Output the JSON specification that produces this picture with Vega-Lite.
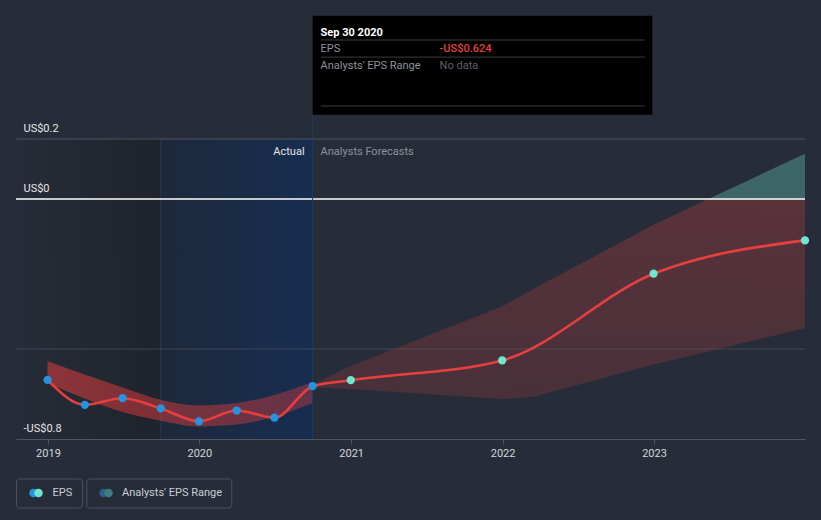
{
  "$schema": "https://vega.github.io/schema/vega-lite/v6.json",
  "width": 789,
  "height": 300,
  "autosize": {"type": "none"},
  "padding": {"left": 16, "top": 139, "right": 16, "bottom": 81},
  "background": "#262d38",
  "config": {
    "view": {"stroke": null},
    "font": "Roboto",
    "axis": {"labelFont": "Roboto", "titleFont": "Roboto"},
    "legend": {"labelFont": "Roboto"}
  },
  "data": {"values": [{}]},
  "datasets": {
    "eps": [
      {"date": "2018-12-31", "eps": -0.603, "kind": "actual"},
      {"date": "2019-03-31", "eps": -0.686, "kind": "actual"},
      {"date": "2019-06-30", "eps": -0.664, "kind": "actual"},
      {"date": "2019-09-30", "eps": -0.698, "kind": "actual"},
      {"date": "2019-12-31", "eps": -0.741, "kind": "actual"},
      {"date": "2020-03-31", "eps": -0.705, "kind": "actual"},
      {"date": "2020-06-30", "eps": -0.729, "kind": "actual"},
      {"date": "2020-09-30", "eps": -0.624, "kind": "actual"},
      {"date": "2020-12-31", "eps": -0.604, "kind": "forecast"},
      {"date": "2021-12-31", "eps": -0.538, "kind": "forecast"},
      {"date": "2022-12-31", "eps": -0.249, "kind": "forecast"},
      {"date": "2023-12-31", "eps": -0.138, "kind": "forecast"}
    ],
    "pastRange": [
      {"date": "2018-12-31", "lo": -0.614, "hi": -0.541},
      {"date": "2019-03-31", "lo": -0.665, "hi": -0.585},
      {"date": "2019-06-30", "lo": -0.71, "hi": -0.628},
      {"date": "2019-09-30", "lo": -0.739, "hi": -0.669},
      {"date": "2019-12-31", "lo": -0.758, "hi": -0.688},
      {"date": "2020-03-31", "lo": -0.752, "hi": -0.68},
      {"date": "2020-06-30", "lo": -0.725, "hi": -0.653},
      {"date": "2020-09-30", "lo": -0.68, "hi": -0.61}
    ],
    "fcRange": [
      {"date": "2020-09-30", "lo": -0.628, "hi": -0.618},
      {"date": "2020-12-31", "lo": -0.633, "hi": -0.557},
      {"date": "2021-12-31", "lo": -0.667, "hi": -0.358},
      {"date": "2022-03-14", "lo": -0.66, "hi": -0.302},
      {"date": "2022-12-31", "lo": -0.552, "hi": -0.086},
      {"date": "2023-05-12", "lo": -0.508, "hi": 0},
      {"date": "2023-12-31", "lo": -0.43, "hi": 0}
    ],
    "fcAbove": [
      {"date": "2023-05-12", "hi": 0},
      {"date": "2023-12-31", "hi": 0.151}
    ],
    "zones": [
      {"start": "2018-10-16", "end": "2019-09-30", "zone": "older"},
      {"start": "2019-09-30", "end": "2020-09-30", "zone": "recent"}
    ]
  },
  "layer": [
    {
      "data": {"name": "zones"},
      "transform": [{"filter": "datum.zone == 'older'"}],
      "mark": {
        "type": "rect",
        "color": {
          "gradient": "linear",
          "stops": [
            {"offset": 0, "color": "#262d38"},
            {"offset": 1, "color": "#1f232b"}
          ]
        }
      },
      "encoding": {
        "x": {
          "field": "start",
          "type": "temporal",
          "scale": {
            "type": "utc",
            "domain": [
              {"year": 2018, "month": 10, "date": 16, "utc": true},
              {"year": 2023, "month": 12, "date": 31, "utc": true}
            ]
          },
          "axis": {
            "title": null,
            "format": "%Y",
            "values": [
              {"year": 2019, "month": 1, "date": 1, "utc": true},
              {"year": 2020, "month": 1, "date": 1, "utc": true},
              {"year": 2021, "month": 1, "date": 1, "utc": true},
              {"year": 2022, "month": 1, "date": 1, "utc": true},
              {"year": 2023, "month": 1, "date": 1, "utc": true}
            ],
            "grid": false,
            "domainColor": "#4f5562",
            "tickColor": "#4f5562",
            "tickSize": 5,
            "labelColor": "#d4d7dc",
            "labelFontSize": 11,
            "labelPadding": 3,
            "zindex": 1
          }
        },
        "x2": {"field": "end"}
      }
    },
    {
      "data": {"name": "zones"},
      "transform": [{"filter": "datum.zone == 'recent'"}],
      "mark": {
        "type": "rect",
        "color": {
          "gradient": "linear",
          "stops": [
            {"offset": 0, "color": "#1d293b"},
            {"offset": 1, "color": "#172d50"}
          ]
        }
      },
      "encoding": {"x": {"field": "start", "type": "temporal"}, "x2": {"field": "end"}}
    },
    {
      "data": {"name": "zones"},
      "transform": [{"filter": "datum.zone == 'recent'"}],
      "mark": {"type": "rule", "color": "#26385a", "strokeWidth": 1},
      "encoding": {"x": {"field": "start", "type": "temporal"}}
    },
    {
      "data": {"name": "pastRange"},
      "mark": {
        "type": "area",
        "interpolate": "monotone",
        "color": {
          "gradient": "linear",
          "stops": [
            {"offset": 0, "color": "rgba(226,60,62,0.55)"},
            {"offset": 1, "color": "rgba(226,60,62,0.38)"}
          ]
        }
      },
      "encoding": {
        "x": {"field": "date", "type": "temporal"},
        "y": {
          "field": "hi",
          "type": "quantitative",
          "scale": {"domain": [-0.8, 0.2], "nice": false, "zero": false},
          "axis": {
            "title": null,
            "orient": "left",
            "values": [-0.8, 0, 0.2],
            "labelExpr": "datum.value > 0.1 ? 'US$0.2' : datum.value < -0.1 ? '-US$0.8' : 'US$0'",
            "domain": false,
            "ticks": false,
            "grid": false,
            "labelAlign": "left",
            "labelPadding": -7,
            "labelBaseline": "alphabetic",
            "labelOffset": -8,
            "labelColor": "#e6e6e6",
            "labelFontSize": 11,
            "zindex": 1
          }
        },
        "y2": {"field": "lo"}
      }
    },
    {
      "data": {"name": "fcRange"},
      "mark": {
        "type": "area",
        "interpolate": "linear",
        "color": {
          "gradient": "linear",
          "x1": 0, "x2": 0, "y1": 0, "y2": 1,
          "stops": [
            {"offset": 0, "color": "rgba(229,64,63,0.27)"},
            {"offset": 1, "color": "rgba(229,64,63,0.18)"}
          ]
        }
      },
      "encoding": {
        "x": {"field": "date", "type": "temporal"},
        "y": {"field": "hi", "type": "quantitative"},
        "y2": {"field": "lo"}
      }
    },
    {
      "data": {"name": "fcAbove"},
      "mark": {"type": "area", "interpolate": "linear", "color": "#3e6568"},
      "encoding": {
        "x": {"field": "date", "type": "temporal"},
        "y": {"field": "hi", "type": "quantitative"},
        "y2": {"datum": 0}
      }
    },
    {
      "mark": {"type": "rule", "color": "#4c5260", "strokeWidth": 1},
      "encoding": {"y": {"datum": 0.2, "type": "quantitative"}}
    },
    {
      "mark": {"type": "rule", "color": "#5a5f6b", "strokeWidth": 1, "opacity": 0.55},
      "encoding": {"y": {"datum": -0.5, "type": "quantitative"}}
    },
    {
      "mark": {"type": "rule", "color": "#ffffff", "strokeWidth": 1.5},
      "encoding": {"y": {"datum": 0, "type": "quantitative"}}
    },
    {
      "mark": {"type": "rule", "color": "#1f3b62", "strokeWidth": 1},
      "encoding": {
        "x": {"datum": {"year": 2020, "month": 9, "date": 30, "utc": true}, "type": "temporal"},
        "y": {"datum": 0.29, "type": "quantitative"},
        "y2": {"datum": -0.8}
      }
    },
    {
      "data": {"name": "eps"},
      "mark": {"type": "line", "interpolate": "monotone", "color": "#e5403f", "strokeWidth": 2.6},
      "encoding": {
        "x": {"field": "date", "type": "temporal"},
        "y": {"field": "eps", "type": "quantitative"}
      }
    },
    {
      "data": {"name": "eps"},
      "mark": {"type": "point", "filled": true, "size": 68, "opacity": 1},
      "encoding": {
        "x": {"field": "date", "type": "temporal"},
        "y": {"field": "eps", "type": "quantitative"},
        "color": {
          "condition": {"test": "datum.kind == 'actual'", "value": "#2394df"},
          "value": "#6fe6cf"
        }
      }
    },
    {
      "data": {"name": "eps"},
      "transform": [{"filter": "datum.date == '2020-09-30'"}],
      "mark": {"type": "point", "filled": true, "size": 70, "color": "#2394df", "stroke": "#e8f0fa", "strokeWidth": 1.3, "opacity": 1},
      "encoding": {
        "x": {"field": "date", "type": "temporal"},
        "y": {"field": "eps", "type": "quantitative"}
      }
    },
    {
      "mark": {"type": "text", "text": "Actual", "align": "right", "baseline": "middle", "dx": -8, "fontSize": 11, "color": "#e6e6e6"},
      "encoding": {
        "x": {"datum": {"year": 2020, "month": 9, "date": 30, "utc": true}, "type": "temporal"},
        "y": {"datum": 0.156, "type": "quantitative"}
      }
    },
    {
      "mark": {"type": "text", "text": "Analysts Forecasts", "align": "left", "baseline": "middle", "dx": 8, "fontSize": 11, "color": "#8d929b"},
      "encoding": {
        "x": {"datum": {"year": 2020, "month": 9, "date": 30, "utc": true}, "type": "temporal"},
        "y": {"datum": 0.156, "type": "quantitative"}
      }
    },
    {
      "mark": {"type": "rect", "color": "#000000"},
      "encoding": {
        "x": {"datum": {"year": 2020, "month": 9, "date": 30, "utc": true}, "type": "temporal"},
        "x2": {"datum": {"year": 2022, "month": 12, "date": 28, "utc": true}},
        "y": {"datum": 0.611, "type": "quantitative"},
        "y2": {"datum": 0.281}
      }
    },
    {
      "mark": {"type": "rule", "color": "#3c3c3c", "strokeWidth": 1},
      "encoding": {
        "x": {"datum": {"year": 2020, "month": 10, "date": 20, "utc": true}, "type": "temporal"},
        "x2": {"datum": {"year": 2022, "month": 12, "date": 10, "utc": true}},
        "y": {"datum": 0.53, "type": "quantitative"}
      }
    },
    {
      "mark": {"type": "rule", "color": "#3c3c3c", "strokeWidth": 1},
      "encoding": {
        "x": {"datum": {"year": 2020, "month": 10, "date": 20, "utc": true}, "type": "temporal"},
        "x2": {"datum": {"year": 2022, "month": 12, "date": 10, "utc": true}},
        "y": {"datum": 0.473, "type": "quantitative"}
      }
    },
    {
      "mark": {"type": "rule", "color": "#3c3c3c", "strokeWidth": 1},
      "encoding": {
        "x": {"datum": {"year": 2020, "month": 10, "date": 20, "utc": true}, "type": "temporal"},
        "x2": {"datum": {"year": 2022, "month": 12, "date": 10, "utc": true}},
        "y": {"datum": 0.31, "type": "quantitative"}
      }
    },
    {
      "mark": {"type": "text", "text": "Sep 30 2020", "align": "left", "baseline": "middle", "dx": 8, "fontSize": 11, "fontWeight": "bold", "color": "#ffffff"},
      "encoding": {
        "x": {"datum": {"year": 2020, "month": 9, "date": 30, "utc": true}, "type": "temporal"},
        "y": {"datum": 0.555, "type": "quantitative"}
      }
    },
    {
      "mark": {"type": "text", "text": "EPS", "align": "left", "baseline": "middle", "dx": 8, "fontSize": 11, "color": "#8e939b"},
      "encoding": {
        "x": {"datum": {"year": 2020, "month": 9, "date": 30, "utc": true}, "type": "temporal"},
        "y": {"datum": 0.5, "type": "quantitative"}
      }
    },
    {
      "mark": {"type": "text", "text": "-US$0.624", "align": "left", "baseline": "middle", "dx": 127, "fontSize": 11, "fontWeight": 500, "color": "#e8403f"},
      "encoding": {
        "x": {"datum": {"year": 2020, "month": 9, "date": 30, "utc": true}, "type": "temporal"},
        "y": {"datum": 0.5, "type": "quantitative"}
      }
    },
    {
      "mark": {"type": "text", "text": "Analysts' EPS Range", "align": "left", "baseline": "middle", "dx": 8, "fontSize": 11, "color": "#8e939b"},
      "encoding": {
        "x": {"datum": {"year": 2020, "month": 9, "date": 30, "utc": true}, "type": "temporal"},
        "y": {"datum": 0.444, "type": "quantitative"}
      }
    },
    {
      "mark": {"type": "text", "text": "No data", "align": "left", "baseline": "middle", "dx": 127, "fontSize": 11, "color": "#5d6168"},
      "encoding": {
        "x": {"datum": {"year": 2020, "month": 9, "date": 30, "utc": true}, "type": "temporal"},
        "y": {"datum": 0.444, "type": "quantitative"}
      }
    },
    {
      "data": {"values": [{"k": "a"}]},
      "mark": {"type": "point", "filled": true, "opacity": 0, "color": "#2394df"},
      "encoding": {
        "shape": {
          "field": "k",
          "type": "nominal",
          "scale": {"range": ["circle"]},
          "legend": {
            "orient": "none", "legendX": 12, "legendY": 348.5, "title": null,
            "labelExpr": "''", "symbolSize": 72, "symbolStrokeWidth": 0, "symbolOpacity": 1,
            "symbolFillColor": "#2394df", "padding": 0, "labelFontSize": 11, "labelOffset": 0
          }
        }
      }
    },
    {
      "data": {"values": [{"k": "EPS"}]},
      "mark": {"type": "point", "filled": true, "opacity": 0},
      "encoding": {
        "fill": {
          "field": "k",
          "type": "nominal",
          "scale": {"range": ["#6fe6cf"]},
          "legend": {
            "orient": "none", "legendX": 0, "legendY": 339.5, "title": null,
            "symbolType": "circle", "symbolSize": 72, "symbolStrokeWidth": 0, "symbolOpacity": 1,
            "symbolOffset": 8, "labelOffset": 8.5, "padding": 9,
            "labelColor": "#c9cdd3", "labelFontSize": 11,
            "strokeColor": "#4a505d", "cornerRadius": 3
          }
        }
      }
    },
    {
      "data": {"values": [{"k": "b"}]},
      "mark": {"type": "point", "filled": true, "opacity": 0, "color": "#2a5f8e"},
      "encoding": {
        "stroke": {
          "field": "k",
          "type": "nominal",
          "scale": {"range": ["#2a5f8e"]},
          "legend": {
            "orient": "none", "legendX": 82, "legendY": 348.5, "title": null,
            "labelExpr": "''", "symbolType": "circle", "symbolSize": 72, "symbolStrokeWidth": 0, "symbolOpacity": 1,
            "symbolFillColor": "#2a5f8e", "padding": 0, "labelFontSize": 11, "labelOffset": 0
          }
        }
      }
    },
    {
      "data": {"values": [{"k": "Analysts' EPS Range"}]},
      "mark": {"type": "point", "filled": true, "opacity": 0},
      "encoding": {
        "color": {
          "field": "k",
          "type": "nominal",
          "scale": {"range": ["#3f7e80"]},
          "legend": {
            "orient": "none", "legendX": 70.3, "legendY": 339.5, "title": null,
            "symbolType": "circle", "symbolSize": 72, "symbolStrokeWidth": 0, "symbolOpacity": 1,
            "symbolOffset": 7.7, "labelOffset": 8, "padding": 9,
            "labelColor": "#c9cdd3", "labelFontSize": 11,
            "strokeColor": "#4a505d", "cornerRadius": 3
          }
        }
      }
    }
  ]
}
